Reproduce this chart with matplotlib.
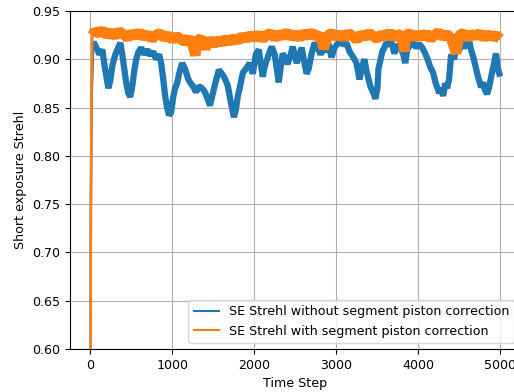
import matplotlib
matplotlib.use("Agg")
import matplotlib.pyplot as plt
from matplotlib.lines import Line2D

plt.rcParams["font.size"] = 9.1

# SE Strehl without segment piston correction
steps_off = [0, 5, 15, 36, 73, 109, 146, 170, 195, 219, 243, 267, 304, 340, 365, 389,
             413, 438, 462, 486, 511, 535, 559, 584, 620, 657, 693, 729, 766, 802,
             839, 863, 888, 912, 936, 960, 985, 1009, 1033, 1058, 1082, 1119, 1155,
             1191, 1216, 1252, 1289, 1325, 1362, 1398, 1435, 1459, 1495, 1532, 1568,
             1605, 1641, 1678, 1714, 1751, 1775, 1799, 1824, 1860, 1897, 1945, 1982,
             2018, 2055, 2079, 2103, 2128, 2152, 2188, 2213, 2249, 2274, 2298, 2322,
             2347, 2383, 2407, 2444, 2468, 2492, 2517, 2553, 2578, 2614, 2638, 2663,
             2699, 2736, 2772, 2808, 2845, 2881, 2906, 2942, 2979, 3015, 3052, 3088,
             3125, 3161, 3185, 3222, 3246, 3271, 3283, 3307, 3343, 3368, 3392, 3416,
             3453, 3477, 3502, 3514, 3538, 3562, 3587, 3611, 3647, 3672, 3708, 3745,
             3781, 3818, 3842, 3866, 3903, 3939, 3976, 4012, 4049, 4085, 4122, 4146,
             4182, 4207, 4231, 4255, 4280, 4304, 4328, 4353, 4377, 4401, 4438, 4462,
             4498, 4523, 4559, 4596, 4620, 4644, 4669, 4693, 4717, 4742, 4766, 4790,
             4815, 4839, 4863, 4900, 4924, 4948, 4973, 4999]
strehl_off = [0.20, 0.74, 0.86, 0.918, 0.912, 0.905, 0.910, 0.895, 0.882, 0.870, 0.878,
              0.893, 0.905, 0.912, 0.917, 0.905, 0.890, 0.875, 0.865, 0.861, 0.872,
              0.888, 0.900, 0.907, 0.912, 0.905, 0.910, 0.904, 0.908, 0.900, 0.905,
              0.896, 0.880, 0.862, 0.850, 0.842, 0.845, 0.860, 0.870, 0.875, 0.885,
              0.896, 0.890, 0.880, 0.876, 0.872, 0.866, 0.872, 0.870, 0.866, 0.858,
              0.852, 0.865, 0.878, 0.889, 0.885, 0.880, 0.872, 0.855, 0.840, 0.848,
              0.862, 0.871, 0.886, 0.890, 0.896, 0.885, 0.905, 0.910, 0.895, 0.882,
              0.893, 0.899, 0.908, 0.913, 0.905, 0.890, 0.876, 0.892, 0.906, 0.900,
              0.895, 0.905, 0.913, 0.905, 0.896, 0.905, 0.912, 0.895, 0.885, 0.890,
              0.906, 0.917, 0.912, 0.905, 0.912, 0.908, 0.916, 0.902, 0.912, 0.916,
              0.918, 0.915, 0.917, 0.908, 0.905, 0.900, 0.896, 0.885, 0.879, 0.890,
              0.900, 0.888, 0.880, 0.872, 0.865, 0.859, 0.870, 0.890, 0.899, 0.908,
              0.912, 0.917, 0.915, 0.918, 0.906, 0.915, 0.912, 0.905, 0.896, 0.910,
              0.915, 0.917, 0.912, 0.916, 0.912, 0.906, 0.898, 0.892, 0.886, 0.877,
              0.871, 0.865, 0.870, 0.862, 0.875, 0.870, 0.880, 0.905, 0.900, 0.913,
              0.908, 0.918, 0.912, 0.916, 0.920, 0.910, 0.903, 0.895, 0.886, 0.878,
              0.871, 0.876, 0.868, 0.864, 0.870, 0.886, 0.895, 0.906, 0.890, 0.882]

# SE Strehl with segment piston correction
steps_on = [0, 5, 15, 25, 50, 100, 150, 200, 250, 300, 350, 400, 450, 500, 550, 600,
            650, 700, 750, 800, 850, 900, 950, 1000, 1050, 1100, 1150, 1200, 1250,
            1280, 1300, 1350, 1400, 1450, 1500, 1550, 1600, 1650, 1700, 1750, 1800,
            1850, 1900, 1950, 2000, 2050, 2100, 2150, 2200, 2250, 2300, 2350, 2400,
            2450, 2500, 2550, 2600, 2650, 2700, 2750, 2800, 2845, 2900, 2950, 3000,
            3050, 3100, 3150, 3200, 3250, 3300, 3350, 3400, 3450, 3500, 3550, 3600,
            3650, 3700, 3750, 3800, 3830, 3850, 3900, 3950, 4000, 4050, 4100, 4150,
            4200, 4250, 4300, 4350, 4400, 4462, 4500, 4550, 4600, 4650, 4700, 4750,
            4800, 4850, 4900, 4950, 5000]
strehl_on = [0.00, 0.72, 0.88, 0.925, 0.929, 0.927, 0.930, 0.925, 0.928, 0.924, 0.929,
             0.926, 0.922, 0.927, 0.924, 0.928, 0.923, 0.926, 0.921, 0.925, 0.927,
             0.922, 0.925, 0.920, 0.924, 0.921, 0.918, 0.922, 0.914, 0.904, 0.919,
             0.922, 0.911, 0.921, 0.915, 0.920, 0.917, 0.921, 0.918, 0.922, 0.919,
             0.924, 0.921, 0.925, 0.922, 0.926, 0.921, 0.925, 0.927, 0.922, 0.926,
             0.924, 0.928, 0.923, 0.926, 0.922, 0.927, 0.924, 0.928, 0.923, 0.926,
             0.911, 0.925, 0.927, 0.923, 0.926, 0.922, 0.927, 0.924, 0.920, 0.926,
             0.923, 0.927, 0.924, 0.921, 0.926, 0.923, 0.928, 0.922, 0.926, 0.924,
             0.908, 0.925, 0.927, 0.922, 0.926, 0.923, 0.927, 0.921, 0.925, 0.928,
             0.923, 0.926, 0.922, 0.906, 0.925, 0.927, 0.922, 0.926, 0.924, 0.927,
             0.922, 0.926, 0.923, 0.925, 0.921]

blue = "#1f77b4"
orange = "#ff7f0e"
n_rise = 4  # first samples: the start-up jump from ~0 to the plateau

fig = plt.figure(figsize=(5.14, 3.92), dpi=100)
# the original figure was cropped on the right, so the axes run past the edge
ax = fig.add_axes([0.136, 0.110, 0.877, 0.862])

# thick strokes stand in for the fast step-to-step jitter of the raw series
ax.plot(steps_off[:n_rise], strehl_off[:n_rise], color=blue, lw=1.8)
ax.plot(steps_off[n_rise - 1:], strehl_off[n_rise - 1:], color=blue, lw=4.5,
        solid_joinstyle="bevel", solid_capstyle="butt")
ax.plot(steps_on[:n_rise], strehl_on[:n_rise], color=orange, lw=1.8)
ax.plot(steps_on[n_rise - 1:], strehl_on[n_rise - 1:], color=orange, lw=7.5,
        solid_joinstyle="bevel", solid_capstyle="butt")

ax.set_ylim(0.60, 0.95)
ax.set_xlim(-250, 5250)
ax.set_xticks([0, 1000, 2000, 3000, 4000, 5000])
ax.set_xlabel("Time Step")
ax.set_ylabel("Short exposure Strehl")
ax.grid(True)

handles = [Line2D([], [], color=blue, lw=1.5),
           Line2D([], [], color=orange, lw=1.5)]
ax.legend(handles, ["SE Strehl without segment piston correction",
                    "SE Strehl with segment piston correction"],
          loc="lower right")

fig.savefig("out.png", dpi=100)
